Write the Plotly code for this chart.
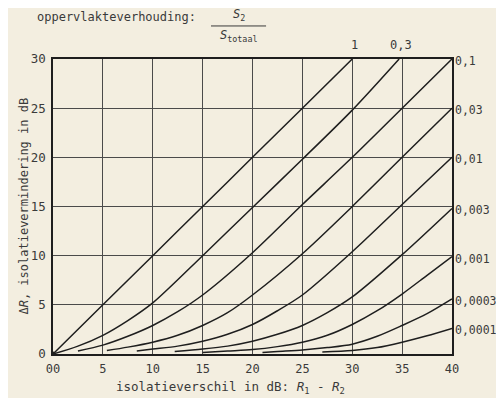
import plotly.graph_objects as go

# ratios S2/Stotaal (curve labels)
labels = ["1", "0,3", "0,1", "0,03", "0,01", "0,003", "0,001", "0,0003", "0,0001"]

# values: x = R1 - R2 (dB), y = ΔR (dB)
x_1 = [0, 5, 10, 15, 20, 25, 30]
y_1 = [0, 5, 10, 15, 20, 25, 30]
x_03 = [0, 2.5, 5, 7.5, 10, 15, 20, 25, 30, 34.7]
y_03 = [0, 0.8, 1.9, 3.4, 5.2, 10.0, 14.9, 19.8, 24.8, 30.0]
x_01 = [2.5, 5, 7.5, 10, 12.5, 15, 20, 25, 30, 35, 40]
y_01 = [0.3, 0.9, 1.8, 2.9, 4.3, 6.0, 10.3, 15.2, 20.0, 25.0, 30.0]
x_003 = [5.4, 7.5, 10, 12.5, 15, 17.5, 20, 25, 30, 35, 40]
y_003 = [0.35, 0.7, 1.2, 1.9, 2.9, 4.2, 6.0, 10.2, 15.0, 20.0, 25.0]
x_001 = [8.4, 10, 12.5, 15, 17.5, 20, 22.5, 25, 30, 35, 40]
y_001 = [0.3, 0.5, 0.8, 1.3, 2.0, 3.0, 4.4, 6.0, 10.4, 15.2, 20.0]
x_0003 = [12.2, 15, 17.5, 20, 22.5, 25, 27.5, 30, 35, 40]
y_0003 = [0.25, 0.5, 0.8, 1.3, 2.0, 2.9, 4.2, 5.8, 10.1, 14.8]
x_0001 = [15, 17.5, 20, 22.5, 25, 27.5, 30, 32.5, 35, 37.5, 40]
y_0001 = [0.15, 0.3, 0.45, 0.75, 1.2, 1.9, 3.0, 4.4, 6.1, 8.0, 9.9]
x_00003 = [21, 22.5, 25, 27.5, 30, 32.5, 35, 37.5, 40]
y_00003 = [0.15, 0.25, 0.4, 0.65, 1.0, 1.8, 2.9, 4.1, 5.6]
x_00001 = [27, 30, 32.5, 35, 37.5, 40]
y_00001 = [0.2, 0.35, 0.65, 1.2, 1.85, 2.6]

x_ticks = [0, 5, 10, 15, 20, 25, 30, 35, 40]
x_ticktext = ["00", "5", "10", "15", "20", "25", "30", "35", "40"]
y_ticks = [0, 5, 10, 15, 20, 25, 30]

series = [(x_1, y_1), (x_03, y_03), (x_01, y_01), (x_003, y_003), (x_001, y_001),
          (x_0003, y_0003), (x_0001, y_0001), (x_00003, y_00003), (x_00001, y_00001)]

BG = "#f3eee0"
INK = "#1e1e1e"
TXT = "#3a3a3a"
FONT = "DejaVu Sans Mono"

fig = go.Figure()
for (xs, ys), lab in zip(series, labels):
    fig.add_trace(go.Scatter(x=xs, y=ys, mode="lines", name=lab,
                             line=dict(color=INK, width=1.5, shape="spline", smoothing=0.8),
                             hoverinfo="skip"))

# origin blob
fig.add_trace(go.Scatter(x=[0], y=[0], mode="markers",
                         marker=dict(color=INK, size=5), hoverinfo="skip"))

annotations = []
# top labels for 1 and 0,3
for (xs, ys), lab in zip(series[:2], labels[:2]):
    annotations.append(dict(x=xs[-1], y=ys[-1], xref="x", yref="y", text=lab,
                            showarrow=False, yshift=14, xshift=2,
                            font=dict(family=FONT, size=12, color=TXT)))
# right labels
for (xs, ys), lab in zip(series[2:], labels[2:]):
    annotations.append(dict(x=xs[-1], y=ys[-1], xref="x", yref="y", text=lab,
                            showarrow=False, xanchor="left", xshift=1, yshift=-2,
                            font=dict(family=FONT, size=11.5, color=TXT)))

annotations += [
    dict(x=-0.045, y=1.142, xref="paper", yref="paper", xanchor="left", yanchor="middle",
         text="oppervlakteverhouding:", showarrow=False,
         font=dict(family=FONT, size=12, color=TXT)),
    dict(x=0.465, y=1.148, xref="paper", yref="paper", xanchor="center", yanchor="middle",
         text="<i>S</i><sub>2</sub>", showarrow=False,
         font=dict(family=FONT, size=12, color=TXT)),
    dict(x=0.465, y=1.078, xref="paper", yref="paper", xanchor="center", yanchor="middle",
         text="<i>S</i><sub>totaal</sub>", showarrow=False,
         font=dict(family=FONT, size=12, color=TXT)),
    dict(x=0.446, y=-0.113, xref="paper", yref="paper", xanchor="center", yanchor="middle",
         text="isolatieverschil in dB: <i>R</i><sub>1</sub> - <i>R</i><sub>2</sub>", showarrow=False,
         font=dict(family=FONT, size=12.5, color=TXT)),
    dict(x=-0.075, y=0.5, xref="paper", yref="paper", xanchor="center", yanchor="middle",
         text="Δ<i>R</i>, isolatievermindering in dB", showarrow=False, textangle=-90,
         font=dict(family=FONT, size=12, color=TXT)),
]

# page body has an 8px margin, so the figure is offset by 8px
fig.update_layout(
    width=496, height=390,
    margin=dict(l=45, r=52, t=51, b=44),
    paper_bgcolor=BG, plot_bgcolor=BG,
    showlegend=False,
    annotations=annotations,
    shapes=[dict(type="line", xref="paper", yref="paper", x0=0.396, x1=0.534,
                 y0=1.112, y1=1.112, line=dict(color=TXT, width=1))],
)
fig.update_xaxes(range=[0, 40], tickvals=x_ticks, ticktext=x_ticktext,
                 showgrid=True, gridcolor="#4a4a4a", gridwidth=1,
                 showline=True, linecolor=INK, linewidth=1.5, mirror=True,
                 zeroline=False, ticks="", ticklabelstandoff=3,
                 tickfont=dict(family=FONT, size=12, color=TXT))
fig.update_yaxes(range=[0, 30], tickvals=y_ticks,
                 showgrid=True, gridcolor="#4a4a4a", gridwidth=1,
                 showline=True, linecolor=INK, linewidth=1.5, mirror=True,
                 zeroline=False, ticks="", ticklabelstandoff=3,
                 tickfont=dict(family=FONT, size=12.5, color=TXT))

fig.write_html("out.html")
